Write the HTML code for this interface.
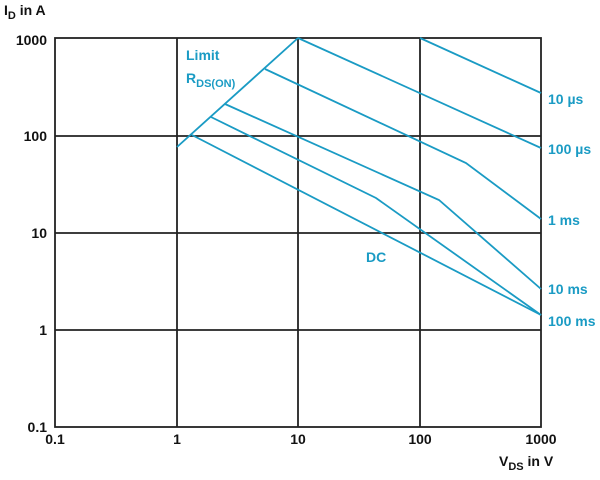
<!DOCTYPE html>
<html><head><style>body{margin:0;background:#fff;overflow:hidden}</style></head><body>
<svg width="600" height="475" xmlns="http://www.w3.org/2000/svg" font-family="Liberation Sans, sans-serif" font-weight="bold">
<g stroke="#222" stroke-width="1.8" fill="none">
<rect x="55" y="38" width="486" height="389"/>
<line x1="177" y1="38" x2="177" y2="427"/><line x1="298" y1="38" x2="298" y2="427"/><line x1="420" y1="38" x2="420" y2="427"/>
<line x1="55" y1="136" x2="541" y2="136"/><line x1="55" y1="233" x2="541" y2="233"/><line x1="55" y1="330" x2="541" y2="330"/>
</g>
<g stroke="#1a9bc4" stroke-width="1.8" fill="none">
<polyline points="177,147 298,38"/>
<polyline points="420,38 541,93"/>
<polyline points="298,38 541,148"/>
<polyline points="265,69 466,163 541,219"/>
<polyline points="225,104 439,200 541,289"/>
<polyline points="211,117 376,198 541,315"/>
<polyline points="192,135 541,315"/>
</g>
<g fill="#1a9bc4" font-size="14">
<text x="186" y="60">Limit</text>
<text x="186" y="83">R<tspan font-size="11" dy="4">DS(ON)</tspan></text>
<text x="366" y="262">DC</text>
<text x="548" y="104">10 µs</text>
<text x="548" y="154">100 µs</text>
<text x="548" y="225">1 ms</text>
<text x="548" y="294">10 ms</text>
<text x="548" y="326">100 ms</text>
</g>
<g fill="#111" font-size="14">
<text x="4" y="15">I<tspan font-size="11" dy="4">D</tspan><tspan dy="-4"> in A</tspan></text>
<g text-anchor="end">
<text x="47" y="45">1000</text><text x="47" y="141">100</text><text x="47" y="238">10</text><text x="47" y="335">1</text><text x="47" y="432">0.1</text>
</g>
<g text-anchor="middle">
<text x="55" y="444">0.1</text><text x="177" y="444">1</text><text x="298" y="444">10</text><text x="420" y="444">100</text><text x="541" y="444">1000</text>
</g>
<text x="499" y="466">V<tspan font-size="11" dy="4">DS</tspan><tspan dy="-4"> in V</tspan></text>
</g>
</svg>
</body></html>
